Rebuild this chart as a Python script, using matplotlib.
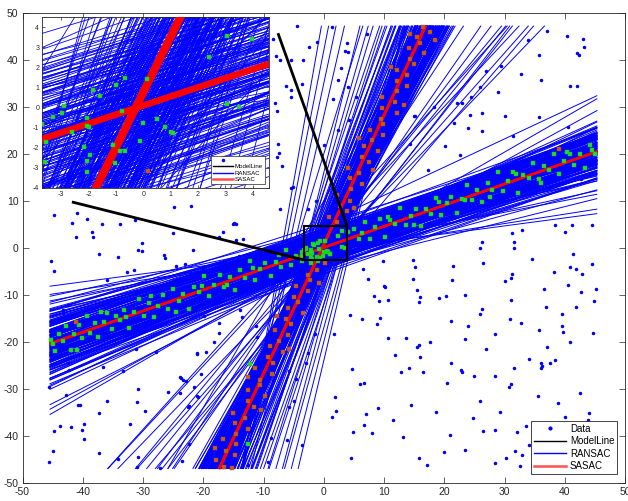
import numpy as np
import matplotlib
matplotlib.use("Agg")
import matplotlib.pyplot as plt
from matplotlib.collections import LineCollection
from matplotlib.lines import Line2D
from matplotlib.patches import Rectangle

plt.rcParams['font.family'] = ['Liberation Sans', 'DejaVu Sans']
plt.rcParams['axes.unicode_minus'] = False

# ---------------- data ----------------
# RANSAC candidate lines  y = m*x + c
ransac_shallow_m = [
    0.45,0.42,0.48,0.40,0.50,0.44,0.46,0.38,0.52,0.43,
    0.47,0.41,0.49,0.36,0.54,0.45,0.39,0.51,0.44,0.46,
    0.33,0.57,0.42,0.48,0.40,0.50,0.35,0.55,0.43,0.47,
    0.30,0.60,0.45,0.41,0.49,0.37,0.53,0.44,0.46,0.39,
    0.51,0.28,0.62,0.42,0.48,0.34,0.56,0.45,0.40,0.50,
    0.43,0.47,0.25,0.65,0.38,0.52,0.44,0.46,0.36,0.54,
    0.41,0.49,0.45,0.32,0.58,0.42,0.48,0.39,0.51,0.20,
    0.70,0.43,0.47,0.37,0.53,0.45,0.40,0.50,0.35,0.55,
    0.44,0.46,0.17,0.74,0.42,0.48,0.38,0.52,0.45,0.41,
    0.49,0.31,0.59,0.43,0.47,0.36,0.54,0.44,0.46,0.27, 0.60]
ransac_shallow_c = [
    0.3,-1.2,1.5,-0.4,-2.1,2.4,-0.8,1.1,-1.6,0.6,
    -2.7,3.0,-0.2,1.8,-3.2,-1.0,2.2,0.4,-4.1,3.6,
    0.9,-1.9,-0.6,2.7,-2.4,1.3,-3.5,0.2,4.2,-1.4,
    1.7,-2.8,-3.0,0.8,2.0,-1.1,-0.3,3.3,-2.2,1.4,
    -4.5,-0.5,-1.3,2.5,-0.9,3.9,-2.6,1.0,-1.7,0.5,
    -3.3,2.9,0.1,-3.8,-0.7,1.9,-5.0,4.6,2.3,-2.0,
    0.0,-1.5,3.1,-4.0,0.7,1.6,-3.6,-0.1,2.6,-0.8,
    -2.5,-2.3,1.2,3.5,-4.8,0.4,-0.2,-1.0,2.8,-3.1,
    4.0,-4.4,-0.4,-1.8,1.1,0.3,-2.9,2.1,-5.5,5.2,
    -0.6,0.6,-2.4,3.7,-3.4,-1.6,1.5,-0.3,0.9,2.0, 5.2]
ransac_shallow2_m = [
    0.44,0.47,0.41,0.50,0.43,0.46,0.39,0.52,0.45,0.42,
    0.48,0.40,0.51,0.44,0.37,0.53,0.46,0.43,0.49,0.38,
    0.45,0.41,0.47,0.55,0.35,0.44,0.50,0.42,0.48,0.46,
    0.39,0.52,0.43,0.45,0.40,0.49,0.36,0.54,0.47,0.44,
    0.42,0.51,0.38,0.46,0.45,0.43,0.48,0.41,0.53,0.37,
    0.50,0.44,0.46,0.40,0.57,0.33,0.47,0.43,0.49,0.45,
    0.42,0.48,0.39,0.52,0.44,0.46,0.41,0.50,0.36,0.55,
    0.45,0.43,0.47,0.40,0.51,0.38,0.49,0.44,0.46,0.42]
ransac_shallow2_c = [
    1.8,-0.9,-2.3,0.6,2.9,-3.1,0.2,1.0,-1.7,3.4,
    -0.5,1.6,-2.8,-0.1,2.1,-1.2,1.3,-3.7,0.9,-0.3,
    -2.0,2.6,0.4,-1.4,3.0,-2.6,1.9,-0.7,-3.3,2.3,
    0.0,-2.2,1.2,-0.4,3.8,-1.9,0.7,-0.8,2.4,-2.9,
    3.2,-0.6,-1.5,0.3,2.0,-2.4,1.5,-3.9,0.1,1.1,
    -1.1,3.6,-2.7,2.8,-1.0,0.5,-3.5,1.7,-2.0,0.8,
    -0.2,2.2,-3.0,0.9,-1.3,3.1,-2.5,-0.4,1.4,-1.8,
    2.7,-1.6,-0.9,0.4,-2.1,2.5,1.0,-3.4,3.5,0.2]
ransac_steep_m = [
    2.75,2.60,2.90,2.50,3.05,2.70,2.80,2.45,3.20,2.65,
    2.85,2.55,3.00,2.40,3.35,2.72,2.78,2.35,3.50,2.62,
    2.95,2.48,3.10,2.68,2.82,2.30,3.65,2.58,2.92,2.52,
    3.15,2.42,3.80,2.66,2.88,2.38,3.28,2.76,2.56,3.02,
    2.25,3.95,2.64,2.84,2.46,3.40,2.74,2.54,3.08,2.34,
    4.10,2.70,2.86,2.44,3.55,2.62,2.98,2.28,4.30,2.80,
    2.50,3.25,2.66,2.90,2.40,3.70,2.58,3.12,2.22,4.50,
    2.74,2.84,2.46,3.45,2.60,3.00,2.36,4.80,2.68,2.92,
    2.52,3.30,2.20,5.20,2.78,3.06,2.42,3.85,2.64,5.60,
    5.0,4.6,5.4,4.4,6.0,7.2,6.5,4.2,3.8,3.6,2.2]
ransac_steep_c = [
    0.5,-1.5,2.2,-3.0,3.5,1.0,-0.5,1.8,-2.5,4.0,
    -2.0,0.0,5.0,-1.0,-4.0,2.8,-3.5,0.8,6.0,-2.8,
    1.5,-4.5,-1.2,3.2,4.5,-0.2,-6.0,2.0,-3.8,1.2,
    7.0,-2.2,-5.0,-0.8,3.0,2.5,-7.5,5.5,-1.8,0.3,
    1.0,9.0,-4.2,-2.5,3.8,4.0,-1.0,0.6,-5.5,-3.2,
    -9.0,2.4,1.4,-0.4,10.0,-3.6,6.5,2.6,12.0,-4.8,
    0.2,-8.0,4.8,-1.6,-2.6,-10.0,3.4,8.0,-1.2,14.0,
    -0.6,2.8,-4.0,6.0,1.6,-6.5,0.4,-14.0,-2.4,4.2,
    -1.4,9.5,0.0,16.0,3.6,-3.0,-0.8,-12.0,5.0,28.0,
    -20.0,-17.0,-24.0,-12.0,35.0,50.0,42.0,20.0,12.0,-6.0,10.0]
ransac_steep2_m = [
    2.72,2.58,2.88,2.48,3.02,2.66,2.80,2.52,3.12,2.62,
    2.84,2.44,2.96,2.56,3.25,2.70,2.76,2.40,3.40,2.60,
    2.92,2.50,3.06,2.64,2.86,2.36,3.55,2.54,2.90,2.46,
    3.18,2.42,3.30,2.68,2.82,2.38,3.45,2.74,2.58,3.00,
    2.32,3.60,2.66,2.78,2.48,3.35,2.70,2.52,3.10,2.44,
    2.94,2.62,2.86,2.40,3.22,2.56,2.98,2.34,3.50,2.76,
    2.54,3.15,2.68,2.88,2.46,3.38,2.60,3.04,2.30,3.75,
    2.72,2.80,2.50,3.28,2.64,2.96,2.42,3.65,2.58,2.84]
ransac_steep2_c = [
    -0.8,1.6,-2.4,2.9,1.2,-3.2,0.4,-1.1,3.8,0.9,
    -1.9,-0.3,2.6,-4.0,-2.2,1.8,3.1,0.0,4.6,-2.7,
    0.7,-3.6,-0.5,2.2,-1.4,1.1,-4.5,3.4,2.0,-1.7,
    5.2,-0.9,-3.0,0.3,-2.9,2.4,6.0,-0.2,-3.8,1.5,
    -0.6,7.0,-1.2,1.9,0.6,-5.0,3.7,-2.1,-2.6,2.7,
    -3.4,0.8,4.1,-1.6,5.5,-0.4,-4.2,1.3,8.0,-2.5,
    2.2,-6.0,-1.0,1.0,3.0,-7.0,0.1,4.5,-1.5,9.0,
    1.4,-2.8,-0.7,3.3,-3.1,2.3,1.7,-8.5,0.5,-1.3]
ransac_misc_m = [1.45,1.55,1.62,1.38,1.70,1.50,1.85,1.42,1.58,1.95,1.33,1.66]
ransac_misc_c = [-2.0,1.5,-3.5,2.5,0.0,-5.0,-1.0,4.0,-0.5,2.0,-1.5,-4.0]

# SASAC lines
sasac_m = [0.451,0.450,0.449,0.450,0.451,0.450,
           2.75,2.75,2.75,2.75,2.75,2.75,2.75]
sasac_c = [0.00,0.04,0.08,0.12,0.16,0.20,
           0.45,0.55,0.65,0.75,0.85,0.95,1.05]

# ground-truth model lines
model_m = [0.45, 2.75]
model_c = [0.12, 0.78]

# outlier data points (blue)
outliers_xy = [
    (14.8,-2.6),(15.2,-4.1),(14.8,-6.5),(15.5,-9.0),(16.0,-10.4),(15.8,-11.4),(13.6,-19.2),(15.5,-21.0),
    (15.8,-20.6),(15.9,-23.1),(17.6,-19.9),(14.1,-25.5),(12.8,-26.3),(16.4,-26.3),(19.2,-10.7),(20.3,-10.3),
    (21.4,-3.8),(21.3,-6.9),(23.5,-9.9),(21.2,-15.5),(23.9,-16.7),(23.4,-19.4),(21.2,-24.4),(22.8,-26.0),
    (23.0,-26.4),(20.4,-28.7),(25.0,-27.2),(26.2,-13.0),(26.0,-14.0),(25.9,-0.1),(26.3,1.2),(26.5,-3.1),
    (26.9,-21.4),(28.5,-18.3),(28.5,-27.3),(31.5,1.3),(31.6,0.1),(31.2,-5.5),(31.1,-6.4),(30.0,-7.1),
    (31.0,-11.0),(30.9,-15.0),(32.8,-15.9),(31.6,-25.6),(30.7,-29.6),(31.1,-28.9),(34.5,-2.4),(36.5,-8.7),
    (36.9,-12.5),(35.8,-17.4),(37.0,-21.0),(34.1,-23.6),(36.0,-24.4),(36.3,-25.1),(36.0,-25.6),(37.6,-24.4),
    (38.3,-23.8),(38.2,-5.0),(40.1,3.3),(40.5,-7.9),(39.6,-14.0),(39.5,-16.6),(39.7,-17.9),(40.9,-20.0),
    (40.9,-4.0),(41.4,-1.3),(41.8,-4.5),(42.8,-5.5),(42.7,-9.4),(41.8,-12.5),(44.6,-3.3),(45.2,-8.7),
    (44.8,-11.3),(44.7,-18.1),(44.6,5.0),(41.2,5.0),(38.3,5.0),(31.2,3.2),(32.9,3.9),
    (9.8,-2.8),(6.5,-4.4),(7.3,-6.7),(10.0,-8.0),(8.4,-10.2),(9.1,-11.3),(10.6,-11.1),(4.4,-14.3),
    (6.4,-15.0),(9.4,-14.9),(8.8,-16.1),(10.7,-19.1),(11.9,-22.8),
    (-42.5,-12.1),(-43.2,-13.8),(-45.6,-29.6),(-31.2,-21.5),(-27.9,-22.2),(-42.4,-24.5),(-42.3,-26.0),
    (-36.7,-25.3),(-33.3,-26.1),(-42.7,-31.3),(-40.8,-33.3),(-40.5,-33.5),(-36.0,-32.6),(-30.8,-30.0),
    (-31.0,-32.7),(-29.7,-34.6),(-37.3,-35.0),(-25.9,-30.6),(-23.8,-30.9),(-43.7,-37.8),(-42.0,-38.0),
    (-44.7,-38.9),(-40.1,-38.7),(-39.8,-37.4),(-39.8,-40.6),(-32.2,-37.4),(-37.3,-43.7),(-45.0,-43.1),
    (-45.6,-45.6),(-34.1,-44.9),(-30.8,-44.4),(-31.0,-46.5),(-27.2,-46.9),(-23.6,-45.3),(-23.7,-27.7),
    (-23.3,-28.1),(-22.4,-41.8),(-21.1,-22.4),(-20.8,-31.6),(-22.5,-33.8),
    (-18.2,-19.9),(-21.1,-22.6),(-19.6,-22.2),(-23.9,-27.5),(-22.9,-28.3),(-21.1,-31.5),(-22.3,-33.6),
    (-20.3,-26.9),(-5.8,-26.1),(-4.6,-27.9),(-4.9,-32.6),(-5.8,-33.9),(-6.1,-40.9),(-3.6,-41.9),
    (-8.8,-40.4),(-12.5,-46.2),(-9.2,-45.6),(-2.6,-22.3),(-2.9,-24.5),(-1.5,-18.3),(1.7,-18.4),
    (1.8,-31.6),(2.0,-34.7),(1.4,-35.9),(4.7,-25.7),(6.0,-29.0),(6.7,-28.7),(7.0,-35.3),(6.7,-37.7),
    (8.0,-39.4),(4.9,-39.2),(4.6,-44.6),(9.0,-34.1),(-21.6,-29.5),
    (-4.4,47.2),(1.3,47.0),(-8.4,44.4),(-8.0,40.9),(-7.2,40.1),(-5.4,39.9),(-3.5,39.9),(-2.5,42.8),
    (-1.1,43.8),(3.9,43.7),(3.6,41.9),(4.1,41.6),(7.1,45.5),(2.8,38.2),(2.4,35.7),(4.0,34.3),
    (-3.6,34.9),(-6.3,34.5),(-5.5,33.6),(-5.4,32.2),(-8.1,30.9),(-7.7,29.2),(1.5,31.6),(5.4,32.2),
    (-7.6,22.1),(0.0,21.9),(2.3,25.1),(4.2,27.2),(15.0,28.1),(18.3,30.1),(14.3,22.1),
    (33.9,44.3),(37.0,46.2),(40.4,45.2),(43.0,44.4),(43.2,42.7),(35.8,41.0),(42.0,41.4),(42.3,41.1),
    (36.1,35.7),(32.8,37.1),(29.5,38.8),(26.9,37.7),(25.9,34.3),(29.0,33.1),(40.8,34.5),(42.1,34.5),
    (24.4,32.2),(22.9,30.9),(22.1,30.8),(24.3,28.3),(26.3,28.8),(30.0,28.1),(35.8,27.9),(21.6,26.7),
    (24.0,25.5),(26.3,24.9),(20.2,21.6),(22.6,19.7),(17.3,16.7),(31.4,23.8),(40.6,25.8),(42.7,14.7),
    (15.2,28.1),
    (-17.4,19.9),(-7.5,20.3),(-7.8,19.4),(-7.0,17.5),(-5.5,12.7),(-5.1,13.0),(-2.6,8.3),(-7.2,8.4),
    (-1.3,10.1),(-14.9,5.4),(-13.4,1.9),(-14.5,1.7),(-16.8,3.5),(9.6,7.5),(10.1,-8.2),(-11.7,16.4),
    (-44.7,7.1),(-40.9,7.4),(-41.8,5.3),(-39.3,6.2),(-36.8,5.1),(-33.8,5.1),(-31.3,6.0),(-38.5,3.3),
    (-38.3,2.4),(-41.1,2.4),(-45.3,-2.7),(-44.8,-4.8),(-37.3,-1.3),(-34.2,-2.0),(-30.1,1.0),(-30.1,-0.6),
    (-30.8,-0.4),(-32.7,-5.2),(-31.5,-4.7),(-36.0,-6.8),(-26.5,-1.5),(-26.3,-2.2),(-24.9,8.7),(-22.1,9.0),
    (-25.0,3.1),(-21.7,-0.4),(-23.1,-3.4),(-24.5,-3.8),(-20.1,-4.3),(-15.0,5.1),(-14.6,5.1),(-17.4,2.4),
    (-14.0,-1.7),(-43.3,-13.2),(-19.9,-14.5),(-17.4,-15.9),(-13.9,-13.2),(-13.6,-14.6),(-17.4,-18.1),
    (-11.2,-16.7),(-11.0,-18.9),
    (26.4,-38.9),(28.5,-38.7),(32.1,-39.2),(33.5,-37.9),(28.5,-45.8),(30.3,-44.6),(31.7,-43.1),(32.9,-44.1),
    (32.5,-46.4),(34.0,-41.9),(40.0,-35.9),(39.3,-37.3),(37.6,-38.9),(44.1,-35.2),(43.9,-36.6),
    (11.5,-36.5),(13.2,-40.2),(15.8,-44.6),(18.6,-34.8),(21.0,-39.8),(23.5,-42.9),(24.8,-36.2),(17.2,-46.1),
    (19.9,-43.5),(14.5,-33.5),(26.0,-32.5),(35.5,-31.5),(38.8,-33.0),(42.5,-30.8),(29.2,-34.8),
]

# inliers of the shallow model (green)
green_xy = [
    (-45.3,-19.5),(-44.6,-21.9),(-44.0,-18.2),(-43.2,-19.7),(-42.7,-16.5),(-42.0,-21.6),(-41.4,-18.3),
    (-40.6,-16.3),(-40.1,-19.1),(-39.3,-14.5),(-38.8,-18.1),(-38.0,-16.0),(-37.4,-19.0),(-36.5,-15.8),
    (-35.9,-13.9),(-35.2,-17.3),(-34.4,-14.5),(-33.8,-15.4),(-33.1,-13.1),(-32.3,-17.0),(-31.5,-13.7),
    (-30.6,-10.8),(-29.9,-14.4),(-29.0,-11.8),(-28.2,-14.6),(-27.5,-12.3),(-26.7,-10.1),(-25.8,-12.9),
    (-25.0,-8.8),(-24.1,-11.3),(-23.3,-9.7),(-22.4,-12.9),(-21.6,-8.2),(-20.7,-9.4),(-19.9,-5.9),
    (-19.0,-10.2),(-18.2,-7.8),(-17.3,-5.7),(-16.5,-8.4),(-15.6,-6.1),(-14.8,-9.0),(-13.9,-4.7),
    (-13.1,-6.3),(-12.2,-2.7),(-11.4,-6.8),(-10.5,-4.5),(-9.7,-3.2),(-8.8,-6.0),(-8.0,-2.9),
    (-7.1,-4.0),(-6.3,-0.4),(-5.4,-3.6),(-4.6,-1.6),
    (5.1,4.0),(5.9,2.0),(6.8,5.6),(7.6,2.0),(8.5,4.4),(9.3,6.2),(10.2,2.4),(11.0,6.0),(11.9,5.1),
    (12.7,8.6),(13.6,5.0),(14.4,6.8),(15.3,8.4),(16.1,4.6),(17.0,8.4),(17.8,7.2),(18.7,10.6),
    (19.5,7.1),(20.4,9.6),(21.2,10.8),(22.1,7.5),(22.9,10.4),(23.8,13.4),(24.6,10.2),(25.5,12.4),
    (26.3,9.7),(27.2,13.9),(28.0,12.4),(28.9,16.1),(29.7,12.1),(30.6,14.3),(31.4,16.1),(32.3,11.8),
    (33.1,15.6),(34.0,14.8),(34.8,18.1),(35.7,14.6),(36.5,17.5),(37.4,16.7),(38.2,20.0),(39.1,15.7),
    (39.9,18.6),(40.8,20.0),(41.6,17.7),(42.5,20.1),(43.3,17.0),(44.2,22.0),(45.0,19.9),
    (-44.9,-20.4),(-41.0,-21.6),(-37.0,-13.7),(-32.8,-14.6),(-28.6,-10.3),(-24.5,-13.6),(-20.2,-8.0),
    (-16.0,-7.8),(-11.8,-4.3),(-7.5,-1.5),(6.3,3.1),(10.6,6.5),(14.9,4.9),(19.1,9.7),(23.4,10.2),
    (27.6,10.8),(31.9,15.7),(36.1,13.9),(40.3,20.4),(44.6,20.9),
    (-3.69,-0.82),(-3.31,-0.48),(-2.98,-0.25),(-2.89,0.10),(-3.59,-2.70),(-3.55,-1.69),(-2.61,-1.23),
    (-2.04,-0.53),(-1.97,-0.98),(-2.06,-0.90),(-2.16,-1.98),(-1.94,-2.35),(-2.06,-2.68),(-2.06,-3.18),
    (-1.84,0.85),(-1.58,0.55),(-0.99,1.13),(-0.78,-0.15),(-0.68,1.47),(-1.11,-1.85),(-0.84,-2.15),
    (-0.68,-2.15),(-1.03,-2.77),(0.13,1.43),(-0.01,-0.78),(-0.11,-1.65),(0.50,-0.57),(0.78,-0.95),
    (1.01,-1.23),(1.09,-1.25),(2.39,2.52),(3.06,3.57),(3.98,3.43),(3.06,0.18),(3.49,0.05),
    (-12.3,-24.7),(-12.6,-41.7),
]

# inliers of the steep model (orange)
orange_xy = [
    (-16.6,-46.5),(-17.9,-45.2),(-14.8,-44.0),(-16.3,-43.1),(-14.6,-41.8),(-16.8,-40.7),(-14.5,-39.5),
    (-12.5,-38.6),(-14.8,-37.3),(-13.0,-36.2),(-15.0,-35.0),(-11.5,-33.9),(-12.6,-32.6),(-9.7,-31.4),
    (-12.6,-30.3),(-10.5,-29.1),(-10.6,-28.0),(-8.6,-26.8),(-11.4,-25.5),(-8.5,-24.4),(-9.3,-23.2),
    (-6.7,-22.1),(-8.9,-20.9),(-7.4,-19.7),(-5.9,-18.6),(-8.1,-17.4),(-5.4,-16.2),(-6.2,-15.1),
    (-3.4,-13.9),(-6.0,-12.8),(-4.2,-11.5),(-4.9,-10.4),(-2.6,-9.2),(-4.6,-8.1),(-2.2,-6.9),
    (-2.6,-5.7),(-1.1,-4.6),(2.2,5.5),(0.9,6.7),(3.9,7.8),(2.7,9.0),(4.3,10.1),(2.2,11.3),(4.5,12.5),
    (6.4,13.6),(4.4,14.8),(5.9,15.9),(4.0,17.1),(7.5,18.3),(6.3,19.4),(9.0,20.6),(6.6,21.7),(8.0,22.9),
    (9.9,24.1),(7.6,25.2),(9.9,26.4),(9.5,27.5),(12.1,28.7),(9.7,29.8),(11.9,31.0),(9.7,32.2),
    (12.1,33.3),(13.8,34.5),(12.1,35.6),(13.8,36.8),(12.1,37.9),(14.9,39.1),(14.3,40.3),(16.7,41.4),
    (14.1,42.6),(16.0,43.7),(15.4,44.9),(17.6,46.0),(16.5,47.0),(-15.3,-46.9),(-18.0,-42.5),
    (-10.4,-34.4),(-12.5,-27.4),(-5.8,-21.5),(-7.7,-14.5),(-0.8,-7.5),(5.1,8.5),(8.1,16.5),(5.9,23.5),
    (13.3,30.4),(11.2,38.5),(18.4,44.2),(14.3,45.6),(0.17,-3.15),(-41.1,-15.7),(39.1,21.1),
]

legend_labels = ['Data', 'ModelLine', 'RANSAC', 'SASAC']
main_ticks = list(range(-50, 51, 10))
inset_xticks = [-3, -2, -1, 0, 1, 2, 3, 4]
inset_yticks = [-4, -3, -2, -1, 0, 1, 2, 3, 4]

# ---------------- geometry helpers ----------------
DATA_X = (-45.5, 45.4)
DATA_Y = (-47.0, 47.3)

def segments(slopes, intercepts):
    segs = []
    for m, c in zip(slopes, intercepts):
        x0, x1 = DATA_X
        if m != 0:
            xa = (DATA_Y[0] - c) / m
            xb = (DATA_Y[1] - c) / m
            x0 = max(x0, min(xa, xb))
            x1 = min(x1, max(xa, xb))
        if x1 > x0:
            segs.append([(x0, m * x0 + c), (x1, m * x1 + c)])
    return segs

ransac_segs = (segments(ransac_shallow_m, ransac_shallow_c)
               + segments(ransac_shallow2_m, ransac_shallow2_c)
               + segments(ransac_steep_m, ransac_steep_c)
               + segments(ransac_steep2_m, ransac_steep2_c)
               + segments(ransac_misc_m, ransac_misc_c))
sasac_segs = segments(sasac_m, sasac_c)
model_segs = segments(model_m, model_c)

ox, oy = zip(*outliers_xy)
gx, gy = zip(*green_xy)
rx, ry = zip(*orange_xy)

BLUE = '#0000FF'
GREEN = '#22DD22'
ORANGE = '#CC5A14'
AXC = '#262626'

def draw(ax, lw_blue, lw_red, ms_pts):
    ax.add_collection(LineCollection(ransac_segs, colors=BLUE, linewidths=lw_blue, zorder=2))
    ax.add_collection(LineCollection(model_segs, colors='k', linewidths=1.0, zorder=3))
    ax.add_collection(LineCollection(sasac_segs, colors='#FF0000', linewidths=lw_red, zorder=4))
    ax.plot(ox, oy, '.', color=BLUE, ms=3.0, zorder=5)
    ax.plot(gx, gy, 's', color=GREEN, mec='#18B818', mew=0.3, ms=ms_pts, zorder=6)
    ax.plot(rx, ry, 's', color=ORANGE, mec='#A84A10', mew=0.3, ms=ms_pts, zorder=6)

def style(ax, labelsize, length, pad):
    ax.tick_params(direction='in', top=True, right=True, length=length, width=0.5,
                   labelsize=labelsize, colors=AXC, pad=pad)
    for s in ax.spines.values():
        s.set_linewidth(0.6)
        s.set_color(AXC)

def handles(ms):
    return [Line2D([], [], ls='none', marker='.', color=BLUE, ms=ms),
            Line2D([], [], color='k', lw=1.0),
            Line2D([], [], color=BLUE, lw=1.0),
            Line2D([], [], color='#FF5050', lw=1.8)]

# ---------------- figure ----------------
fig = plt.figure(figsize=(6.28, 5.01), dpi=100)
ax = fig.add_axes([22.5 / 628, 18 / 501, 602.5 / 628, 470 / 501])
draw(ax, 0.7, 1.3, 2.6)
ax.set_xlim(-50, 50)
ax.set_ylim(-50, 50)
ax.set_xticks(main_ticks)
ax.set_yticks(main_ticks)
style(ax, 7.5, 4.3, 3)

# zoom box and connectors
ax.add_patch(Rectangle((-3.3, -2.55), 7.2, 7.15, fill=False, ec='k', lw=1.5, zorder=10))
ax.plot([-41.8, -3.3], [9.8, -2.55], color='k', lw=2.0, zorder=10, solid_capstyle='butt')
ax.plot([-7.6, 3.9], [45.7, 4.6], color='k', lw=2.0, zorder=10, solid_capstyle='butt')

leg = ax.legend(handles(4), legend_labels, loc='lower right', bbox_to_anchor=(0.987, 0.019),
                borderaxespad=0, fontsize=7, handlelength=3.3, handletextpad=0.35,
                labelspacing=0.25, borderpad=0.3, fancybox=False, framealpha=1,
                edgecolor=AXC)
leg.get_frame().set_linewidth(0.6)
leg.set_zorder(20)

# inset
axin = fig.add_axes([42 / 628, (501 - 188) / 501, 227 / 628, 171 / 501])
axin.set_zorder(15)
axin.set_facecolor('white')
draw(axin, 0.6, 2.0, 2.4)
axin.set_xlim(-3.7, 4.6)
axin.set_ylim(-4.0, 4.5)
axin.set_xticks(inset_xticks)
axin.set_yticks(inset_yticks)
style(axin, 5, 2.5, 2)
leg2 = axin.legend(handles(3), [' ', 'ModelLine', 'RANSAC', 'SASAC'], loc='lower right',
                   bbox_to_anchor=(0.982, 0.023), borderaxespad=0, fontsize=4.4,
                   handlelength=3.3, handletextpad=0.3, labelspacing=0.2, borderpad=0.3,
                   fancybox=False, framealpha=1, edgecolor=AXC)
leg2.get_frame().set_linewidth(0.5)
leg2.set_zorder(20)

fig.savefig('out.png', dpi=100)
